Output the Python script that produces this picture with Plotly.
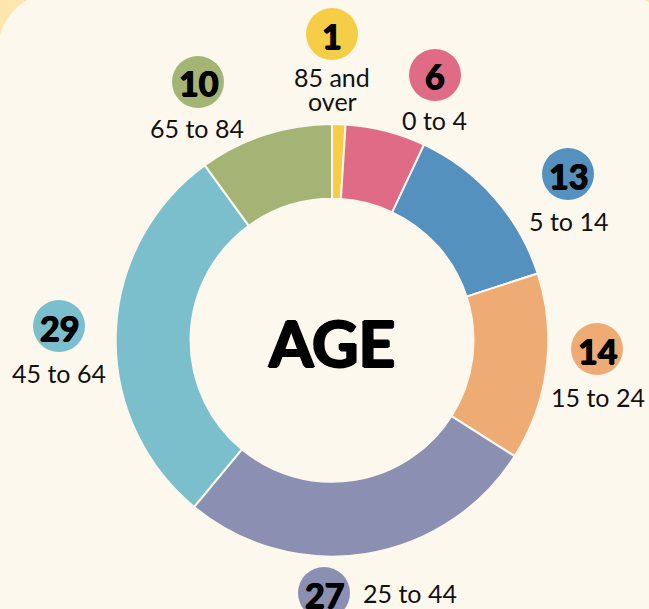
import plotly.graph_objects as go

W, H = 649, 609

# ---- data ----
categories = ["85 and over", "0 to 4", "5 to 14", "15 to 24", "25 to 44", "45 to 64", "65 to 84"]
values = [1, 6, 13, 14, 27, 29, 10]

# ---- styles / layout ----
colors = ["#f6cd46", "#e06b86", "#5591bf", "#eeab73", "#8b8fb1", "#7bbfcc", "#a3b474"]
bg_outer = "#fde7ae"
bg_inner = "#fdf8ee"
FONT = "Lato"

# label positions (pixel centres): bubble centre, label text centre
bubble_pos = [(332, 34), (435, 75), (568, 174), (597, 349), (324, 593), (59, 326), (198, 82)]
text_pos = [None, (434, 120), (568, 221), (598, 397), None, (59, 373), (197, 128)]
BUBBLE_R = 26


def px(x):
    return x / W


def py(y):
    return 1 - y / H


fig = go.Figure()

# donut: centre (332, 340.3), outer radius ~216
cx, cy, R = 332, 340.3, 216.3
fig.add_trace(go.Pie(
    labels=categories,
    values=values,
    sort=False,
    direction="clockwise",
    rotation=0,
    hole=0.654,
    marker=dict(colors=colors, line=dict(color=bg_inner, width=2)),
    textinfo="none",
    hoverinfo="label+value",
    showlegend=False,
    domain=dict(x=[px(cx - R), px(cx + R)], y=[py(cy + R), py(cy - R)]),
))

# rounded cream panel
x0, y0, x1, y1, r = -2.3, -8.5, 674, 720, 60
k = 0.5523


def P(x, y):
    return f"{px(x):.5f},{py(y):.5f}"


path = (
    f"M {P(x0, y0 + r)} "
    f"C {P(x0, y0 + r - k * r)} {P(x0 + r - k * r, y0)} {P(x0 + r, y0)} "
    f"L {P(x1 - r, y0)} "
    f"C {P(x1 - r + k * r, y0)} {P(x1, y0 + r - k * r)} {P(x1, y0 + r)} "
    f"L {P(x1, y1)} L {P(x0, y1)} Z"
)
shapes = [dict(type="path", path=path, xref="paper", yref="paper",
               fillcolor=bg_inner, line=dict(width=0), layer="below")]

heavy = "0.7px 0 0 #000, -0.7px 0 0 #000, 0 0.5px 0 #000"
heavy_big = "1.3px 0 0 #000, -1.3px 0 0 #000, 0 1px 0 #000, 0 -0.6px 0 #000"

annotations = []
for i, (cat, val) in enumerate(zip(categories, values)):
    bx, by = bubble_pos[i]
    shapes.append(dict(type="circle", xref="paper", yref="paper",
                       x0=px(bx - BUBBLE_R), x1=px(bx + BUBBLE_R),
                       y0=py(by + BUBBLE_R), y1=py(by - BUBBLE_R),
                       fillcolor=colors[i], line=dict(width=0), layer="above"))
    annotations.append(dict(x=px(bx), y=py(by + 1), xref="paper", yref="paper",
                            text=f"<b>{val}</b>", showarrow=False,
                            xanchor="center", yanchor="middle",
                            font=dict(family=FONT, size=34, color="#000", weight=900,
                                      shadow=heavy)))
    lab_font = dict(family=FONT, size=25, color="#111")
    if i == 0:
        words = cat.split(" ")
        annotations.append(dict(x=px(332), y=py(77), xref="paper", yref="paper",
                                text=" ".join(words[:2]), showarrow=False,
                                xanchor="center", yanchor="middle", font=lab_font))
        annotations.append(dict(x=px(332), y=py(101), xref="paper", yref="paper",
                                text=words[2], showarrow=False,
                                xanchor="center", yanchor="middle", font=lab_font))
    elif i == 4:
        annotations.append(dict(x=px(bx + 37), y=py(593), xref="paper", yref="paper",
                                text=cat, showarrow=False,
                                xanchor="left", yanchor="middle", font=lab_font))
    else:
        tx, ty = text_pos[i]
        annotations.append(dict(x=px(tx), y=py(ty), xref="paper", yref="paper",
                                text=cat, showarrow=False,
                                xanchor="center", yanchor="middle", font=lab_font))

annotations.append(dict(x=px(331), y=py(342), xref="paper", yref="paper",
                        text="<b>AGE</b>", showarrow=False,
                        xanchor="center", yanchor="middle",
                        font=dict(family=FONT, size=64, color="#000", weight=900,
                                  shadow=heavy_big)))

fig.update_layout(
    width=W, height=H,
    margin=dict(l=0, r=0, t=0, b=0),
    paper_bgcolor=bg_outer,
    plot_bgcolor=bg_outer,
    shapes=shapes,
    annotations=annotations,
    showlegend=False,
)

fig.write_html(
    "out.html",
    config={"displayModeBar": False},
    post_script="document.body.style.margin='0px';document.body.style.overflow='hidden';",
)
